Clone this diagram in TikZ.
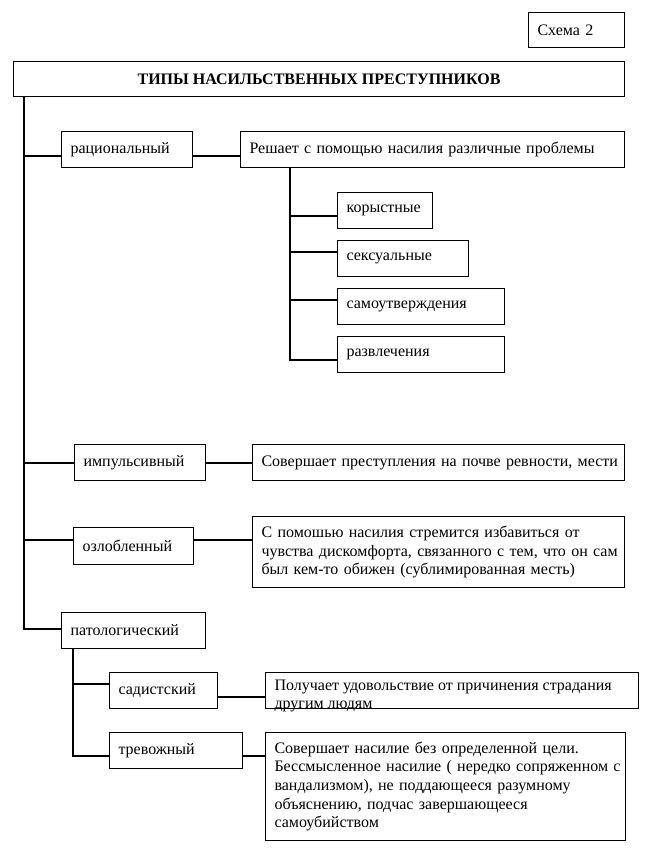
\documentclass[tikz,border=0pt]{standalone}
\usepackage{fontspec}
\setmainfont{Liberation Serif}
\begin{document}
\begin{tikzpicture}[x=0.75pt,y=-0.75pt,line width=0.8pt,
  bx/.style n args={2}{draw, anchor=north west, text width=(#1-18)*0.75pt,
    minimum height=#2*0.75pt, inner xsep=9*0.75pt, inner ysep=0pt, align=left,
    font=\fontsize{12}{14}\selectfont},
  ttl/.style={draw, anchor=north west, minimum width=611*0.75pt, minimum height=35*0.75pt,
    inner sep=0pt, font=\fontsize{12}{14}\selectfont\bfseries},
  txt/.style={anchor=north west, inner sep=0pt, align=left, font=\fontsize{12}{14}\selectfont},
  ln/.style={line width=0.8pt}]
\useasboundingbox (0,0) rectangle (649,865);

\node[bx={96}{35}] (schema) at (528,12) {Схема 2};
\node[ttl] (title) at (13,61) {ТИПЫ НАСИЛЬСТВЕННЫХ ПРЕСТУПНИКОВ};

\node[bx={131}{36}] (rat) at (61,131) {рациональный};
\node[bx={384}{36}] (ratd) at (240,131) {\mbox{Решает с помощью насилия различные проблемы}};
\node[bx={95}{36}] (k1) at (337,192) {корыстные};
\node[bx={131}{36}] (k2) at (337,240) {сексуальные};
\node[bx={167}{36}] (k3) at (337,288) {самоутверждения};
\node[bx={167}{36}] (k4) at (337,336) {развлечения};

\node[bx={131}{36}] (imp) at (74,444) {импульсивный};
\node[bx={372}{36}] (impd) at (252,444) {\mbox{Совершает преступления на почве ревности, мести}};

\node[bx={120}{37}] (ozl) at (73,527) {озлобленный};
\node[bx={372}{71}] (ozld) at (252,516) {\mbox{С помошью насилия стремится избавиться от}\\\mbox{чувства дискомфорта, связанного с тем, что он сам}\\\mbox{был кем-то обижен (сублимированная месть)}};

\node[bx={144}{36}] (pat) at (61,612) {патологический};
\node[bx={108}{36}] (sad) at (109,672) {садистский};
\node[txt] (saddt) at (274,679) {Получает удовольствие от причинения страдания\\другим людям};
\node[draw, anchor=north west, minimum width=373*0.75pt, minimum height=36*0.75pt, inner sep=0pt] (sadd) at (265,672) {};
\node[bx={133}{36}] (trev) at (109,732) {тревожный};
\node[bx={360}{108}] (trevd) at (265,732) {\mbox{Совершает насилие без определенной цели.}\\\mbox{Бессмысленное насилие ( нередко сопряженном с}\\\mbox{вандализмом), не поддающееся разумному}\\\mbox{объяснению, подчас завершающееся}\\\mbox{самоубийством}};

% main trunk
\coordinate (m0) at (24,96);
\coordinate (m1) at (24,156);
\coordinate (m2) at (24,463);
\coordinate (m3) at (24,540);
\coordinate (m4) at (24,629);
\draw[ln] (m0) -- (m4) -- (m4 -| pat.west);
\draw[ln] (m1) -- (m1 -| rat.west);
\draw[ln] (m2) -- (m2 -| imp.west);
\draw[ln] (m3) -- (m3 -| ozl.west);
\draw[ln] (m1 -| rat.east) -- (m1 -| ratd.west);
\draw[ln] (m2 -| imp.east) -- (m2 -| impd.west);
\draw[ln] (m3 -| ozl.east) -- (m3 -| ozld.west);

% rational subtree
\coordinate (r0) at (290,167);
\coordinate (r1) at (290,216);
\coordinate (r2) at (290,252);
\coordinate (r3) at (290,300);
\coordinate (r4) at (290,360);
\draw[ln] (r0) -- (r4) -- (r4 -| k4.west);
\draw[ln] (r1) -- (r1 -| k1.west);
\draw[ln] (r2) -- (r2 -| k2.west);
\draw[ln] (r3) -- (r3 -| k3.west);

% pathological subtree
\coordinate (p0) at (73,648);
\coordinate (p1) at (73,684);
\coordinate (p2) at (73,756);
\coordinate (p3) at (73,697);
\draw[ln] (p0) -- (p2) -- (p2 -| trev.west);
\draw[ln] (p1) -- (p1 -| sad.west);
\draw[ln] (p3 -| sad.east) -- (p3 -| sadd.west);
\draw[ln] (p2 -| trev.east) -- (p2 -| trevd.west);
\end{tikzpicture}
\end{document}
